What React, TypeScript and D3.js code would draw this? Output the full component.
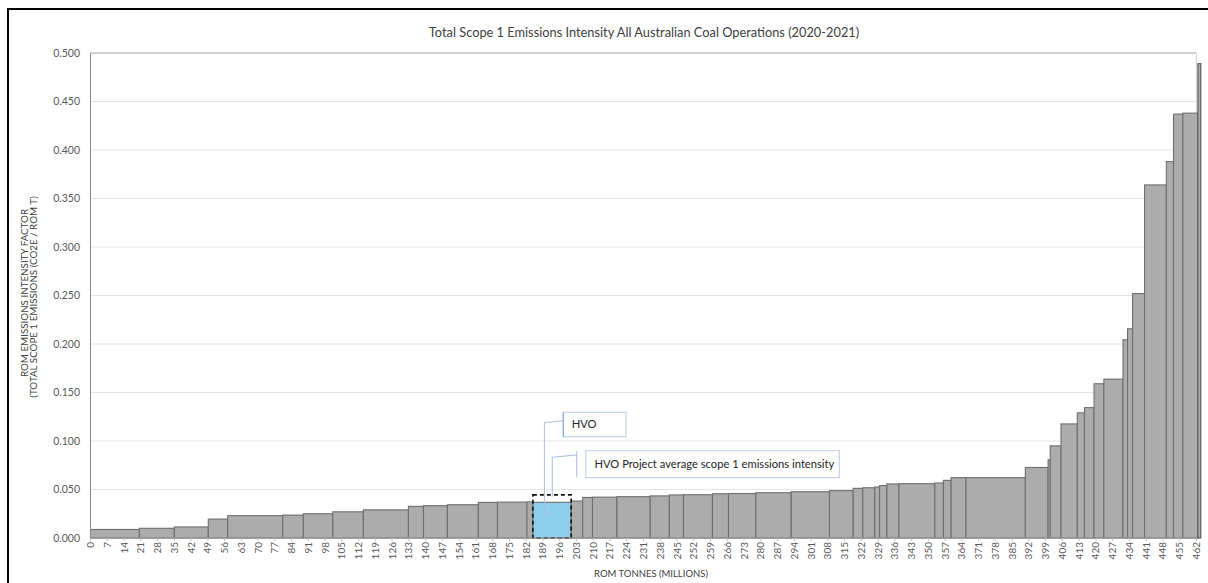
import React from "react";
import * as d3 from "d3";

// ROM tonnes (millions) per operation, in sorted order
const tonnes: number[] = [
  20.4, 14.6, 14.2, 8.1, 23.0, 8.6, 12.3, 12.8, 18.8, 6.3,
  10.0, 12.9, 8.0, 12.3, 2.5, 16.0, 4.8, 4.1, 10.2, 13.9,
  8.0, 5.9, 12.1, 6.7, 11.4, 14.8, 16.0, 9.9, 4.0, 5.0,
  2.0, 3.1, 5.0, 15.0, 3.6, 3.2, 6.2, 24.8, 9.5, 0.9,
  4.5, 6.8, 3.0, 4.0, 4.1, 8.0, 1.9, 2.1, 5.0, 9.1,
  3.0, 3.9, 6.3, 1.2,
];
// Total scope 1 emissions intensity (CO2e / ROM t)
const intensity: number[] = [
  0.0088, 0.0100, 0.0114, 0.0195, 0.0230, 0.0236, 0.0250, 0.0270, 0.0290, 0.0326,
  0.0333, 0.0343, 0.0367, 0.0370, 0.0372, 0.0368, 0.0381, 0.0418, 0.0421, 0.0426,
  0.0434, 0.0444, 0.0446, 0.0456, 0.0458, 0.0467, 0.0477, 0.0488, 0.0512, 0.0518,
  0.0526, 0.0540, 0.0557, 0.0560, 0.0567, 0.0594, 0.0622, 0.0622, 0.0727, 0.0806,
  0.0950, 0.1176, 0.1290, 0.1344, 0.1590, 0.1638, 0.2044, 0.2157, 0.2520, 0.3640,
  0.3880, 0.4370, 0.4380, 0.4890,
];
const hvoIndex = 15;
const xTicks: number[] = d3.range(0, 463, 7);
const yTicks: number[] = d3.range(0, 0.5001, 0.05);

const title = "Total Scope 1 Emissions Intensity All Australian Coal Operations (2020-2021)";
const xTitle = "ROM TONNES (MILLIONS)";
const yTitle1 = "ROM EMISSIONS INTENSITY FACTOR";
const yTitle2 = "(TOTAL SCOPE 1 EMISSIONS (CO2E / ROM T)";
const note1 = "HVO";
const note2 = "HVO Project average scope 1 emissions intensity";

export default function App() {
  const W = 1208, H = 583;
  const x = d3.scaleLinear().domain([0, 462]).range([90.5, 1196.5]);
  const y = d3.scaleLinear().domain([0, 0.5]).range([538, 53]);
  const starts = [0, ...Array.from(d3.cumsum(tonnes))];
  const bars = tonnes.map((t, i) => ({ x0: starts[i], x1: starts[i] + t, v: intensity[i], i }));
  const font = "Lato, 'Open Sans', sans-serif";
  const hvo = bars[hvoIndex];
  const leaderColor = "#a8bfe6";

  return (
    <svg width={W} height={H} style={{ position: "absolute", left: 0, top: 0, background: "#fff" }}>
      <rect x={0} y={0} width={W} height={H} fill="#fff" />
      {/* gridlines */}
      {yTicks.map((t) => (
        <line key={"g" + t} x1={x(0)} x2={x(462)} y1={y(t)} y2={y(t)} stroke="#e4e4e4" strokeWidth={1} />
      ))}
      {/* plot frame top & right */}
      <line x1={x(0)} x2={x(462)} y1={y(0.5)} y2={y(0.5)} stroke="#b0b0b0" strokeWidth={1} />
      <line x1={x(462)} x2={x(462)} y1={y(0.5)} y2={y(0)} stroke="#cfcfcf" strokeWidth={1} />
      {/* bars */}
      {bars.map((b) => (
        <rect
          key={"b" + b.i}
          x={x(b.x0)}
          y={y(b.v)}
          width={x(b.x1) - x(b.x0)}
          height={y(0) - y(b.v)}
          fill={b.i === hvoIndex ? "#8dcfec" : "#acacac"}
          stroke={b.i === bars.length - 1 ? "#555" : "#6e6e6e"}
          strokeWidth={1.1}
        />
      ))}
      {/* HVO dashed box */}
      <rect
        x={x(hvo.x0)}
        y={y(0.0445)}
        width={x(hvo.x1) - x(hvo.x0)}
        height={y(0) - y(0.0445)}
        fill="none"
        stroke="#111"
        strokeWidth={1.6}
        strokeDasharray="4,3"
      />
      {/* axes */}
      <line x1={x(0)} x2={x(0)} y1={y(0.5)} y2={y(0)} stroke="#8a8a8a" strokeWidth={1} />
      <line x1={x(0)} x2={x(462)} y1={y(0)} y2={y(0)} stroke="#9a9a9a" strokeWidth={1} />
      {xTicks.map((t) => (
        <g key={"xt" + t}>
          <line x1={x(t)} x2={x(t)} y1={y(0)} y2={y(0) + 3} stroke="#bdbdbd" />
          <text
            transform={`translate(${x(t)},${y(0) + 4}) rotate(-90)`}
            textAnchor="end"
            dy="0.35em"
            fontFamily={font}
            fontSize={10}
            fill="#595959"
          >
            {t}
          </text>
        </g>
      ))}
      {yTicks.map((t) => (
        <text
          key={"yt" + t}
          x={80}
          y={y(t)}
          dy="0.35em"
          textAnchor="end"
          fontFamily={font}
          fontSize={10.5}
          fill="#595959"
        >
          {t.toFixed(3)}
        </text>
      ))}
      {/* titles */}
      <text x={644} y={33} dy="0.35em" textAnchor="middle" fontFamily={font} fontSize={12.8} fill="#404040">
        {title}
      </text>
      <text x={651} y={574} dy="0.35em" textAnchor="middle" fontFamily={font} fontSize={9.5} fill="#404040">
        {xTitle}
      </text>
      <text transform="translate(25,293) rotate(-90)" textAnchor="middle" dy="0.35em" fontFamily={font} fontSize={9.8} fill="#404040">
        {yTitle1}
      </text>
      <text transform="translate(34,297) rotate(-90)" textAnchor="middle" dy="0.35em" fontFamily={font} fontSize={9.8} fill="#404040">
        {yTitle2}
      </text>
      {/* annotation 1 */}
      <polyline
        points={`${x(189.6)},${y(0.022)} ${x(189.6)},${y(0.1189)} ${x(197.5)},${y(0.1209)}`}
        fill="none"
        stroke={leaderColor}
        strokeWidth={1}
      />
      <rect x={x(197.5)} y={y(0.1296)} width={x(223.7) - x(197.5)} height={y(0.1044) - y(0.1296)} fill="#fff" stroke="#b8cbeb" strokeWidth={1} />
      <line x1={x(197.5)} x2={x(197.5)} y1={y(0.1296)} y2={y(0.1044)} stroke="#8eaadc" strokeWidth={1.2} />
      <text x={x(201)} y={(y(0.1296) + y(0.1044)) / 2} dy="0.35em" fontFamily={font} fontSize={11.2} fill="#262626">
        {note1}
      </text>
      {/* annotation 2 */}
      <polyline
        points={`${x(192.9)},${y(0.0426)} ${x(192.9)},${y(0.0832)} ${x(203.1)},${y(0.0856)}`}
        fill="none"
        stroke={leaderColor}
        strokeWidth={1}
      />
      <line x1={x(203.1)} x2={x(203.1)} y1={y(0.0897)} y2={y(0.0626)} stroke={leaderColor} strokeWidth={1} />
      <rect x={x(206.9)} y={y(0.09)} width={x(312.8) - x(206.9)} height={y(0.0622) - y(0.09)} fill="#fff" stroke="#b8cbeb" strokeWidth={1} />
      <text x={x(210.5)} y={(y(0.09) + y(0.0622)) / 2} dy="0.35em" fontFamily={font} fontSize={11.2} fill="#262626">
        {note2}
      </text>
      {/* outer frame */}
      <rect x={8} y={9} width={1230} height={620} fill="none" stroke="#000" strokeWidth={2} />
    </svg>
  );
}
